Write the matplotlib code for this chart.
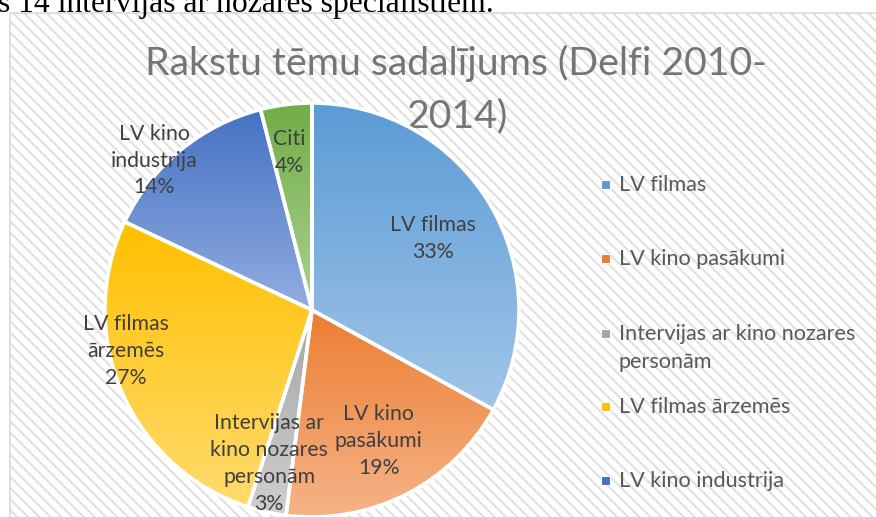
import numpy as np
import matplotlib
matplotlib.use("Agg")
import matplotlib.pyplot as plt
from matplotlib.patches import Rectangle
from matplotlib.colors import LinearSegmentedColormap

# dati
kategorijas = ["LV filmas", "LV kino pasākumi", "Intervijas ar kino nozares personām",
               "LV filmas ārzemēs", "LV kino industrija", "Citi"]
vertibas = [33, 19, 3, 27, 14, 4]
etiketes = ["LV filmas", "LV kino\npasākumi", "Intervijas ar\nkino nozares\npersonām",
            "LV filmas\nārzemēs", "LV kino\nindustrija", "Citi"]
leg_teksti = ["LV filmas", "LV kino pasākumi", "Intervijas ar kino nozares\npersonām",
              "LV filmas ārzemēs", "LV kino industrija"]

# krāsas: augša -> apakša (gradients)
krasas_aug = ["#5B9BD5", "#ED7D31", "#A5A5A5", "#FFC000", "#4472C4", "#70AD47"]
krasas_apa = ["#A2C6E8", "#F5B58A", "#CFCFCF", "#FFDB6E", "#93ADDF", "#ACD291"]

# etiķešu novietojums (attālums no centra, leņķa nobīde)
et_r = [0.68, 0.71, 0.77, 0.92, 1.05, 0.77]
et_nob = [0, 0, -3, -11, 7, 1]

plt.rcParams["hatch.linewidth"] = 1.6

W, H = 876, 517
fig = plt.figure(figsize=(W / 100, H / 100), dpi=100)
fig.patch.set_facecolor("white")

# fons ar svītrām
bg = fig.add_axes([0, 0, 1, 1], zorder=-5)
bg.set_xlim(0, W)
bg.set_ylim(H, 0)
bg.axis("off")
bg.add_patch(Rectangle((10, 13), W, H, facecolor="white", edgecolor="#e2e2e2",
                       hatch="\\\\\\", linewidth=0))
bg.add_patch(Rectangle((10, 13), W, H, facecolor="none", edgecolor="#d9d9d9", linewidth=1.2))

# teksts virs diagrammas (nogriezts)
bg.text(-2, 12, "s 14 intervijas ar nozares speciālistiem.", family="Liberation Serif",
        fontsize=22.8, color="black", ha="left", va="baseline", clip_on=False)

# virsraksts
bg.text(456, 75, "Rakstu tēmu sadalījums (Delfi 2010-", family="Lato",
        fontsize=28.3, color="#757575", ha="center", va="baseline")
bg.text(457, 127, "2014)", family="Lato",
        fontsize=28.3, color="#757575", ha="center", va="baseline")

# pīrāgs
cx, cy, R = 312, 310, 207
ax = fig.add_axes([(cx - R) / W, (H - cy - R) / H, 2 * R / W, 2 * R / H], zorder=1)
wedges, _ = ax.pie(vertibas, startangle=90, counterclock=False, radius=1,
                   wedgeprops=dict(edgecolor="white", linewidth=2.6))
grad = np.linspace(0, 1, 256).reshape(-1, 1)
for w, c1, c2 in zip(wedges, krasas_aug, krasas_apa):
    v = w.get_path().vertices
    cmap = LinearSegmentedColormap.from_list("g", [c1, c2])
    im = ax.imshow(grad, cmap=cmap, aspect="auto", origin="upper",
                   extent=(v[:, 0].min(), v[:, 0].max(), v[:, 1].min(), v[:, 1].max()), zorder=1)
    im.set_clip_path(w)
    w.set_facecolor("none")
    w.set_zorder(2)
ax.set_xlim(-1, 1)
ax.set_ylim(-1, 1)
ax.set_aspect("equal")
ax.axis("off")

# etiķetes
for w, et, val, r, nob in zip(wedges, etiketes, vertibas, et_r, et_nob):
    ang = np.deg2rad((w.theta1 + w.theta2) / 2 + nob)
    ax.text(r * np.cos(ang), r * np.sin(ang), f"{et}\n{val}%", ha="center", va="center",
            family="Lato", fontsize=15.3, color="#404040", linespacing=1.42, zorder=5, clip_on=False)

# leģenda
leg_y = [191, 265, 340, 413, 487]
for txt, c1, y in zip(leg_teksti, krasas_aug, leg_y):
    bg.add_patch(Rectangle((601, y - 11), 9, 9, facecolor=c1, edgecolor="white", linewidth=0.8))
    for k, rinda in enumerate(txt.split("\n")):
        bg.text(619, y + 28 * k, rinda, family="Lato", fontsize=15.6, color="#595959",
                ha="left", va="baseline")

fig.savefig("out.png", dpi=100)
